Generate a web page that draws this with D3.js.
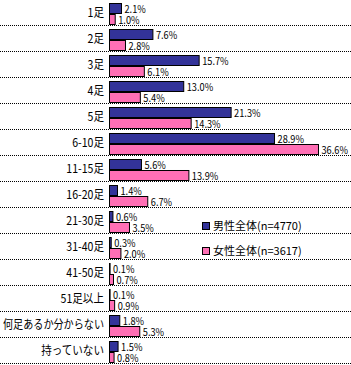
<!DOCTYPE html>
<html>
<head>
<meta charset="utf-8">
<script src="https://cdn.jsdelivr.net/npm/d3@7"></script>
<style>
  body { margin: 0; background: #fff; }
  svg { display: block; }
  text { font-family: "Noto Sans CJK JP", "Liberation Sans", sans-serif; font-size: 11px; fill: #000; }
  .cat { font-size: 12px; }
  .val { font-size: 10.5px; }
</style>
</head>
<body>
<div id="chart"></div>
<script>
// data
const categories = ["1足", "2足", "3足", "4足", "5足", "6-10足", "11-15足", "16-20足",
    "21-30足", "31-40足", "41-50足", "51足以上", "何足あるか分からない", "持っていない"];
const male = [2.1, 7.6, 15.7, 13.0, 21.3, 28.9, 5.6, 1.4, 0.6, 0.3, 0.1, 0.1, 1.8, 1.5];
const female = [1.0, 2.8, 6.1, 5.4, 14.3, 36.6, 13.9, 6.7, 3.5, 2.0, 0.7, 0.9, 5.3, 0.8];
const seriesNames = ["男性全体(n=4770)", "女性全体(n=3617)"];
const colors = ["#333399", "#ff6fb5"];

const width = 351, height = 365;

const svg = d3.select("#chart").append("svg")
    .attr("width", width)
    .attr("height", height);

const rows = categories.map((c, i) => ({ cat: c, values: [male[i], female[i]] }));

const y = d3.scaleBand()
    .domain(categories)
    .range([0, 364]);

const ySub = d3.scaleBand()
    .domain([0, 1])
    .range([3.5, 24.5])
    .paddingInner(0.0909);

const x = d3.scaleLinear()
    .domain([0, 40])
    .range([109.5, 109.5 + 40 * 5.71]);

// squeeze a text horizontally (the original uses a narrow bitmap font)
function squeeze(sel, factor, maxW) {
    sel.each(function () {
        let w = this.getComputedTextLength() * factor;
        if (maxW && w > maxW) w = maxW;
        d3.select(this).attr("textLength", w).attr("lengthAdjust", "spacingAndGlyphs");
    });
}

// dotted separators
svg.selectAll(".sep")
    .data(categories)
    .enter().append("line")
    .attr("class", "sep")
    .attr("x1", 0)
    .attr("x2", width)
    .attr("y1", d => y(d) + y.bandwidth() - 0.5)
    .attr("y2", d => y(d) + y.bandwidth() - 0.5)
    .attr("stroke", "#000")
    .attr("stroke-dasharray", "1,1")
    .attr("shape-rendering", "crispEdges");

// category labels
svg.selectAll(".cat")
    .data(categories)
    .enter().append("text")
    .attr("class", "cat")
    .attr("x", 104)
    .attr("y", d => y(d) + 13)
    .attr("dy", "0.35em")
    .attr("text-anchor", "end")
    .text(d => d)
    .call(squeeze, 0.88, 101);

const g = svg.selectAll(".row")
    .data(rows)
    .enter().append("g")
    .attr("class", "row")
    .attr("transform", d => `translate(0,${y(d.cat)})`);

const cells = g.selectAll(".cell")
    .data(d => d.values.map((v, i) => ({ v: v, i: i })))
    .enter();

cells.append("rect")
    .attr("x", x(0))
    .attr("y", d => ySub(d.i))
    .attr("width", d => x(d.v) - x(0))
    .attr("height", ySub.bandwidth())
    .attr("fill", d => colors[d.i])
    .attr("stroke", "#000")
    .attr("stroke-width", 1);

cells.append("text")
    .attr("class", "val")
    .attr("x", d => x(d.v) + 3)
    .attr("y", d => ySub(d.i) + ySub.bandwidth() / 2 + 0.5)
    .attr("dy", "0.35em")
    .text(d => d.v.toFixed(1) + "%")
    .call(squeeze, 0.88);

// legend
const legend = svg.selectAll(".legend")
    .data(seriesNames)
    .enter().append("g")
    .attr("class", "legend")
    .attr("transform", (d, i) => `translate(202,${222 + i * 25})`);

legend.append("rect")
    .attr("x", 0.5)
    .attr("y", 0.5)
    .attr("width", 7)
    .attr("height", 7)
    .attr("fill", (d, i) => colors[i])
    .attr("stroke", "#000");

legend.append("text")
    .attr("x", 11)
    .attr("y", 4)
    .attr("dy", "0.35em")
    .text(d => d);
</script>
</body>
</html>
